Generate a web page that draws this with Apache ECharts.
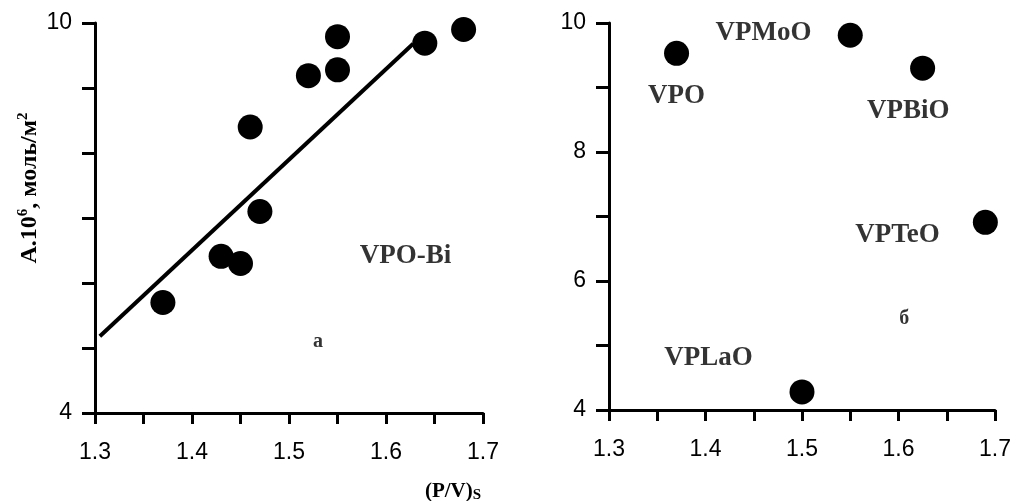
<!DOCTYPE html>
<html><head><meta charset="utf-8">
<script src="https://cdn.jsdelivr.net/npm/echarts@6/dist/echarts.min.js"></script>
<style>html,body{margin:0;padding:0;background:#fff}#c{width:1014px;height:501px}</style>
</head><body><div id="c"></div>
<script>
// ---- data ----
const xTickLabels = [1.3, 1.4, 1.5, 1.6, 1.7];
const leftYTickLabels = [4, 10];
const rightYTickLabels = [4, 6, 8, 10];

const biX = [1.37, 1.43, 1.45, 1.47, 1.46, 1.52, 1.55, 1.55, 1.64, 1.68];
const biY = [5.70, 6.41, 6.30, 7.10, 8.40, 9.19, 9.28, 9.79, 9.69, 9.90];
const fitX = [1.305, 1.628];
const fitY = [5.18, 9.68];

const dopNames = ['VPO', 'VPMoO', 'VPBiO', 'VPTeO', 'VPLaO'];
const dopX = [1.37, 1.55, 1.625, 1.69, 1.50];
const dopY = [9.53, 9.81, 9.30, 6.91, 4.28];

// text annotations (in data units)
const leftNoteText = ['VPO-Bi', 'а'];
const leftNoteX = [1.62, 1.53];
const leftNoteY = [6.41, 5.09];
const rightNoteText = ['VPO', 'VPMoO', 'VPBiO', 'VPTeO', 'VPLaO', 'б'];
const rightNoteX = [1.370, 1.460, 1.610, 1.599, 1.403, 1.606];
const rightNoteY = [8.86, 9.845, 8.63, 6.715, 4.80, 5.42];

// ---- chart ----
const SANS = 'Liberation Sans, Arial, sans-serif';
const SERIF = 'Liberation Serif, Times New Roman, serif';
const fmt = ticks => v => {
  const t = ticks.find(t => Math.abs(t - v) < 1e-6);
  return t === undefined ? '' : String(t);
};
const axisLine = {show: true, lineStyle: {color: '#000', width: 3}};
function xAxis(gi) {
  return {
    type: 'value', gridIndex: gi, min: 1.3, max: 1.7, interval: 0.05,
    axisLine, splitLine: {show: false},
    axisTick: {show: true, length: 11, lineStyle: {color: '#000', width: 3}},
    axisLabel: {formatter: fmt(xTickLabels), color: '#000', fontSize: 23, fontFamily: SANS, margin: 28, showMinLabel: true, showMaxLabel: true}
  };
}
function yAxis(gi, ticks) {
  return {
    type: 'value', gridIndex: gi, min: 4, max: 10, interval: 1,
    axisLine, splitLine: {show: false},
    axisTick: {show: true, length: 13, lineStyle: {color: '#000', width: 3}},
    axisLabel: {formatter: fmt(ticks), color: '#000', fontSize: 23, fontFamily: SANS, margin: 23, showMinLabel: true, showMaxLabel: true}
  };
}
function noteSeries(xi, texts, xs, ys) {
  return {
    type: 'scatter', xAxisIndex: xi, yAxisIndex: xi, silent: true,
    symbol: 'circle', symbolSize: 1, itemStyle: {color: 'rgba(0,0,0,0)'},
    data: texts.map((t, i) => ({
      name: t, value: [xs[i], ys[i]],
      label: {fontSize: t.length === 1 ? 20 : 27}
    })),
    label: {
      show: true, position: 'inside', color: '#000', fontFamily: SERIF, fontWeight: 'bold',
      formatter: p => p.name
    }
  };
}

const chart = echarts.init(document.getElementById('c'), null, {renderer: 'canvas'});
chart.setOption({
  animation: false,
  backgroundColor: '#fff',
  grid: [
    {left: 95, right: 531, top: 23, bottom: 88},
    {left: 609, right: 19, top: 23, bottom: 91}
  ],
  xAxis: [xAxis(0), xAxis(1)],
  yAxis: [yAxis(0, leftYTickLabels), yAxis(1, rightYTickLabels)],
  series: [
    {
      type: 'line', xAxisIndex: 0, yAxisIndex: 0, symbol: 'none', silent: true,
      data: fitX.map((x, i) => [x, fitY[i]]),
      lineStyle: {color: '#000', width: 4}
    },
    {
      type: 'scatter', xAxisIndex: 0, yAxisIndex: 0, symbolSize: 25,
      itemStyle: {color: '#000', opacity: 1},
      data: biX.map((x, i) => [x, biY[i]])
    },
    {
      type: 'scatter', xAxisIndex: 1, yAxisIndex: 1, symbolSize: 25,
      itemStyle: {color: '#000', opacity: 1},
      data: dopX.map((x, i) => ({name: dopNames[i], value: [x, dopY[i]]}))
    },
    noteSeries(0, leftNoteText, leftNoteX, leftNoteY),
    noteSeries(1, rightNoteText, rightNoteX, rightNoteY)
  ],
  graphic: [
    {
      type: 'text', x: 29, y: 188, rotation: Math.PI / 2,
      style: {
        text: '{m|A.10}{s|6}{m|, моль/м}{s|2}',
        align: 'center', verticalAlign: 'middle',
        rich: {
          m: {fontFamily: SERIF, fontWeight: 'bold', fontSize: 24, fill: '#000', lineHeight: 26, verticalAlign: 'bottom'},
          s: {fontFamily: SERIF, fontWeight: 'bold', fontSize: 15, fill: '#000', lineHeight: 26, verticalAlign: 'top'}
        }
      }
    },
    {
      type: 'text', x: 453, y: 492,
      style: {
        text: '{m|(P/V)}{s|S}',
        align: 'center', verticalAlign: 'middle',
        rich: {
          m: {fontFamily: SERIF, fontWeight: 'bold', fontSize: 21, fill: '#000', lineHeight: 22, verticalAlign: 'top'},
          s: {fontFamily: SERIF, fontWeight: 'bold', fontSize: 15, fill: '#000', lineHeight: 22, verticalAlign: 'bottom'}
        }
      }
    }
  ]
});
</script></body></html>
